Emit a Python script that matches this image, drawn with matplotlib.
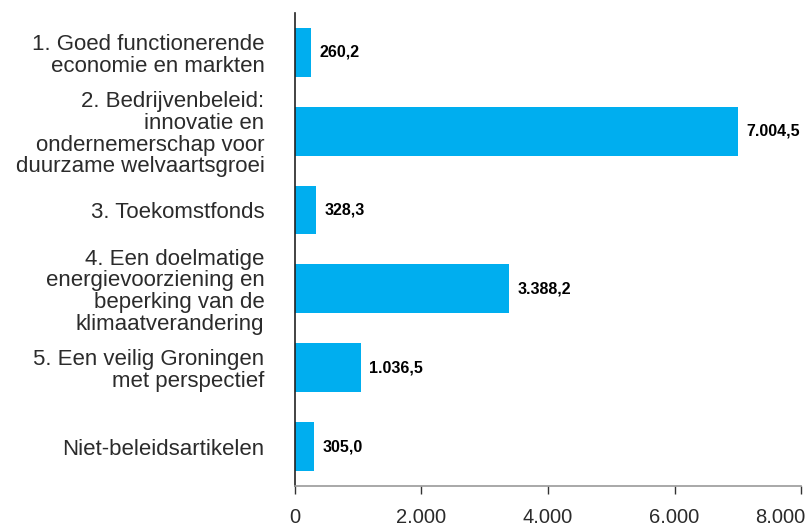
import matplotlib.pyplot as plt
from matplotlib.ticker import FuncFormatter
from matplotlib.transforms import ScaledTranslation

# Data (mln euro per artikel)
categories = [
    "1. Goed functionerende\neconomie en markten",
    "2. Bedrijvenbeleid:\ninnovatie en\nondernemerschap voor\nduurzame welvaartsgroei",
    "3. Toekomstfonds",
    "4. Een doelmatige\nenergievoorziening en\nbeperking van de\nklimaatverandering",
    "5. Een veilig Groningen\nmet perspectief",
    "Niet-beleidsartikelen",
]
values = [260.2, 7004.5, 328.3, 3388.2, 1036.5, 305.0]
xticks = [0, 2000, 4000, 6000, 8000]

BAR_COLOR = "#00AEEF"
TEXT_COLOR = "#2b2b2b"

plt.rcParams['font.family'] = ['Liberation Sans', 'DejaVu Sans']


def nl_number(v, decimals=1):
    s = f"{v:,.{decimals}f}"
    return s.replace(",", "X").replace(".", ",").replace("X", ".")


fig = plt.figure(figsize=(8.06, 5.28), dpi=100)
ax = fig.add_axes([0.366, 0.0795, 0.6278, 0.896])

pos = list(range(len(categories)))
ax.barh(pos, values, height=0.62, color=BAR_COLOR, zorder=2)

for p, v in zip(pos, values):
    ax.annotate(nl_number(v), xy=(v, p), xytext=(6, 0), textcoords="offset points",
                ha="left", va="center", fontsize=11.5, fontweight="bold", color="black")

ax.set_ylim(len(categories) - 0.5, -0.5)
ax.set_xlim(0, 8000)
ax.set_yticks(pos)
ax.set_yticklabels(categories, fontsize=16, color=TEXT_COLOR, linespacing=1.05)
ax.set_xticks(xticks)
ax.xaxis.set_major_formatter(FuncFormatter(lambda v, _: nl_number(v, 0)))

ax.tick_params(axis="y", length=0, pad=22)
ax.tick_params(axis="x", direction="out", length=6, width=1, color="#333333",
               labelsize=14.5, labelcolor=TEXT_COLOR, pad=10)

# last tick label sits flush against the right edge
last = ax.get_xticklabels()[-1]
last.set_ha("right")
last.set_transform(last.get_transform() + ScaledTranslation(4 / 100, 0, fig.dpi_scale_trans))

for s in ["top", "right"]:
    ax.spines[s].set_visible(False)
ax.spines["left"].set_color("#222222")
ax.spines["left"].set_linewidth(1.2)
ax.spines["bottom"].set_color("#999999")
ax.spines["bottom"].set_linewidth(1.2)

fig.savefig("out.png", dpi=100)
